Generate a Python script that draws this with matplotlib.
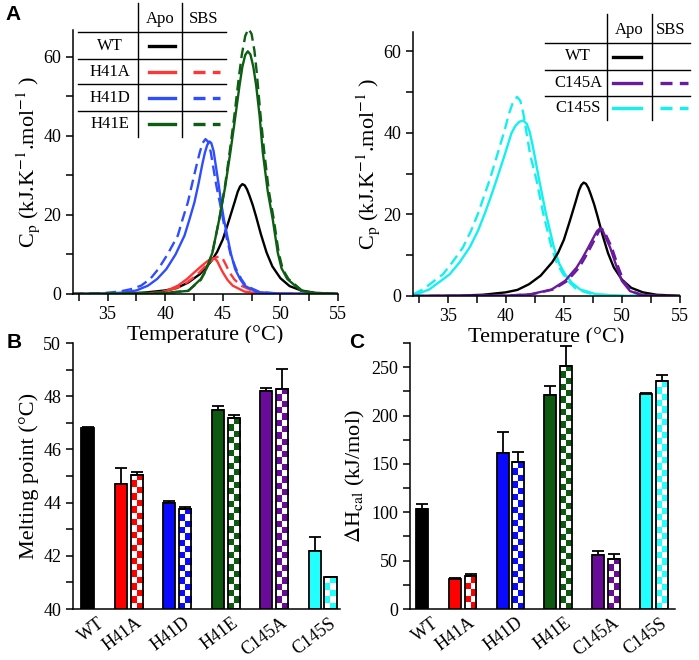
import matplotlib
matplotlib.use('Agg')
import matplotlib.pyplot as plt
import numpy as np
from matplotlib.colors import ListedColormap
from matplotlib.lines import Line2D
from matplotlib.ticker import MultipleLocator

plt.rcParams['font.family'] = 'Liberation Serif'
plt.rcParams['mathtext.fontset'] = 'stix'
plt.rcParams['axes.linewidth'] = 1.1

W, H = 699, 660

# ---- panel A, DSC traces (temperature in C, Cp in kJ/K/mol) ----
wt_t = [32, 36, 38, 40, 41, 42, 43, 44, 44.5, 45, 45.5, 46, 46.3, 46.5, 46.7, 46.9, 47.1, 47.3, 47.6, 47.9, 48.3, 48.8, 49.3, 50, 50.8, 51.8, 53, 55]
wt_cp = [0, 0.1, 0.3, 0.9, 1.5, 2.9, 5.0, 8.3, 10.6, 13.8, 18.3, 23.0, 25.9, 27.2, 27.8, 27.5, 26.5, 25.0, 22.5, 19.5, 15.2, 10.5, 7.0, 4.0, 2.0, 0.9, 0.3, 0.05]

h41a_apo_t = [32, 38, 39.5, 40.1, 41.1, 41.9, 42.54, 43.2, 43.8, 44.05, 44.28, 44.5, 44.75, 45.0, 45.4, 45.87, 46.9, 48, 50, 55]
h41a_apo_cp = [0, 0.1, 0.4, 0.8, 2.1, 3.8, 5.5, 7.2, 8.6, 8.95, 9.0, 8.4, 6.9, 5.5, 3.6, 2.1, 0.6, 0.2, 0.05, 0]
h41a_sbs_t = [32, 38.5, 40, 41.5, 42.3, 42.98, 43.6, 44.2, 44.5, 44.77, 45.0, 45.25, 45.58, 46.0, 46.6, 47.75, 49, 51, 55]
h41a_sbs_cp = [0, 0.1, 0.5, 2.1, 3.8, 5.5, 7.4, 8.9, 9.35, 9.5, 8.9, 7.5, 5.5, 3.7, 2.1, 0.6, 0.2, 0.05, 0]

h41d_apo_t = [32, 35, 36.5, 37.5, 38.5, 39.3, 40.1, 40.9, 41.68, 42.1, 42.54, 42.9, 43.2, 43.45, 43.65, 43.84, 44.0, 44.2, 44.42, 44.65, 44.86, 45.1, 45.38, 45.7, 46.07, 46.5, 46.9, 48.0, 50, 55]
h41d_apo_cp = [0, 0.1, 0.4, 0.9, 2.1, 3.8, 6.3, 10.0, 14.8, 18.8, 23.2, 28.0, 32.5, 35.8, 37.7, 38.6, 38.2, 36.2, 32.0, 27.5, 23.2, 18.8, 14.8, 10.3, 6.3, 3.8, 2.1, 0.4, 0.1, 0]
h41d_sbs_t = [32, 34.5, 36, 37, 37.9, 38.7, 39.4, 40.2, 41.1, 41.5, 41.97, 42.35, 42.7, 43.0, 43.25, 43.5, 43.7, 43.95, 44.2, 44.45, 44.74, 45.29, 45.7, 46.16, 46.6, 47.0, 48.2, 50, 55]
h41d_sbs_cp = [0, 0.2, 0.6, 1.2, 2.1, 3.8, 6.3, 10.0, 14.8, 18.8, 23.2, 28.0, 32.3, 35.8, 38.2, 39.2, 38.6, 36.0, 31.6, 27.3, 23.2, 14.8, 9.8, 6.3, 3.8, 2.1, 0.5, 0.1, 0]

h41e_apo_t = [32, 39, 40.5, 42.0, 43.1, 43.6, 44.1, 44.7, 45.2, 45.66, 46.0, 46.45, 46.7, 46.95, 47.17, 47.4, 47.65, 47.9, 48.2, 48.47, 48.9, 49.33, 49.77, 50.1, 50.6, 51.8, 53, 55]
h41e_apo_cp = [0, 0.1, 0.4, 0.8, 3.8, 6.5, 10.5, 19.0, 27.0, 35.9, 43.0, 52.7, 57.5, 60.5, 61.4, 60.6, 57.5, 52.7, 45.0, 35.9, 26.0, 19.0, 10.5, 6.5, 3.8, 0.8, 0.2, 0]
h41e_sbs_t = [32, 40.5, 42.0, 43.1, 43.6, 44.1, 44.7, 45.2, 45.6, 46.0, 46.4, 46.65, 46.95, 47.23, 47.5, 47.75, 47.95, 48.25, 48.6, 49.0, 49.42, 49.85, 50.2, 50.7, 51.9, 53, 55]
h41e_sbs_cp = [0, 0.4, 0.8, 3.6, 6.3, 10.5, 19.0, 27.5, 36.0, 45.0, 55.0, 60.5, 65.3, 67.1, 65.8, 61.5, 56.0, 46.0, 35.9, 26.0, 19.0, 10.5, 6.3, 3.8, 0.8, 0.2, 0]

c145a_apo_t = [32, 40, 42.07, 43.94, 45.1, 46.1, 46.6, 47.1, 47.6, 47.85, 48.12, 48.35, 48.6, 48.98, 49.56, 49.99, 50.7, 51.6, 53, 55]
c145a_apo_cp = [0, 0.1, 0.4, 1.6, 3.7, 7.0, 9.3, 11.9, 14.6, 15.9, 16.6, 16.0, 14.3, 11.9, 7.0, 3.7, 1.2, 0.3, 0.05, 0]
c145a_sbs_t = [32, 40, 42.2, 44.1, 45.3, 46.33, 46.8, 47.3, 47.8, 48.05, 48.26, 48.5, 48.75, 49.13, 49.7, 50.14, 50.8, 51.7, 53, 55]
c145a_sbs_cp = [0, 0.1, 0.4, 1.6, 3.7, 7.0, 9.3, 11.9, 14.6, 16.0, 16.5, 15.8, 14.2, 11.9, 7.0, 3.7, 1.2, 0.3, 0.05, 0]

c145s_apo_t = [32, 32.3, 33.4, 35.15, 36.0, 36.88, 37.6, 38.18, 38.7, 39.19, 39.9, 40.48, 40.8, 41.15, 41.5, 41.8, 42.05, 42.3, 42.6, 42.87, 43.45, 44.14, 44.6, 45.1, 45.7, 46.4, 47.8, 50, 55]
c145s_apo_cp = [0.2, 0.4, 1.6, 5.3, 8.2, 11.9, 16.0, 20.2, 24.3, 28.4, 34.6, 39.9, 41.6, 42.7, 43.0, 42.2, 40.2, 37.0, 32.5, 28.4, 20.2, 11.9, 7.9, 5.3, 3.2, 1.6, 0.4, 0.05, 0]
c145s_sbs_t = [32, 32.85, 34.57, 35.4, 36.3, 37.0, 37.6, 38.1, 38.6, 39.3, 39.9, 40.25, 40.6, 40.97, 41.25, 41.5, 41.75, 42.1, 42.64, 43.22, 43.94, 44.4, 44.95, 45.5, 46.1, 47.5, 50, 55]
c145s_sbs_cp = [0.4, 1.6, 5.3, 8.3, 11.9, 16.0, 20.2, 24.3, 28.4, 35.0, 40.7, 44.5, 47.4, 48.8, 47.8, 44.8, 40.5, 34.5, 28.4, 20.2, 11.9, 8.0, 5.3, 3.3, 1.6, 0.4, 0.05, 0]

# ---- panels B and C ----
variants = ['WT', 'H41A', 'H41D', 'H41E', 'C145A', 'C145S']
mutants = variants[1:]

tm_apo = [46.79, 44.71, 43.98, 47.47, 48.18, 42.18]
tm_apo_err = [0.07, 0.60, 0.07, 0.15, 0.13, 0.53]
tm_sbs = [45.04, 43.77, 47.18, 48.28, 41.19]
tm_sbs_err = [0.10, 0.05, 0.13, 0.75, 0.03]

dh_apo = [103.6, 31.0, 161.2, 221.4, 55.4, 222.5]
dh_apo_err = [5.2, 1.4, 22.0, 9.3, 4.5, 1.0]
dh_sbs = [33.7, 151.5, 251.4, 51.7, 235.2]
dh_sbs_err = [2.8, 11.0, 21.0, 5.1, 6.9]

bar_colors = ['black', '#ff0000', '#0a0aff', '#0b5a10', '#690a99', '#22ffff']
line_colors = {'WT': 'black', 'H41A': '#ff3636', 'H41D': '#2e4dff',
               'H41E': '#0d5e12', 'C145A': '#6a1a9c', 'C145S': '#14f0f0'}

DASH = (0, (4.5, 2.4))
LW = 1.7


def px_axes(left, top, right, bottom):
    return fig.add_axes([left / W, 1 - bottom / H, (right - left) / W, (bottom - top) / H])


def fx(x):
    return x / W


def fy(y):
    return 1 - y / H


def style_axes(ax):
    ax.spines['top'].set_visible(False)
    ax.spines['right'].set_visible(False)
    ax.tick_params(which='both', direction='out', width=1.1, labelsize=13)
    ax.tick_params(which='major', length=5)
    ax.tick_params(which='minor', length=5)


def dsc_axes(ax, ymax):
    style_axes(ax)
    ax.set_xlim(32, 55)
    ax.set_ylim(0, ymax)
    ax.xaxis.set_major_locator(MultipleLocator(5))
    ax.xaxis.set_minor_locator(MultipleLocator(2.5))
    ax.yaxis.set_major_locator(MultipleLocator(20))
    ax.yaxis.set_minor_locator(MultipleLocator(10))
    ax.set_xlabel('Temperature (°C)', fontsize=16, labelpad=2)
    ax.set_ylabel(r'C$_\mathrm{p}$ (kJ.K$^{\mathrm{-1}}$.mol$^{\mathrm{-1}}$ )', fontsize=16, labelpad=1)


def legend_table(rows, x_lines, x_right, y_top, y_rows, x_label, x_apo, x_sbs, y_head):
    # vertical separators
    for xv in x_lines:
        fig.add_artist(Line2D([fx(xv), fx(xv)], [fy(y_top), fy(y_rows[-1])],
                              color='black', lw=1.0))
    # horizontal separators
    for yh in y_rows[:-1]:
        fig.add_artist(Line2D([fx(x_label[0]), fx(x_right)], [fy(yh), fy(yh)],
                              color='black', lw=1.0))
    fig.text(fx((x_lines[0] + x_lines[1]) / 2), fy(y_head), 'Apo', ha='center', va='center', fontsize=12)
    fig.text(fx((x_lines[1] + x_right) / 2), fy(y_head), 'SBS', ha='center', va='center', fontsize=12)
    for i, (name, has_sbs) in enumerate(rows):
        yc = (y_rows[i] + y_rows[i + 1]) / 2
        fig.text(fx(x_label[1]), fy(yc), name, ha='center', va='center', fontsize=12)
        c = line_colors[name]
        fig.add_artist(Line2D([fx(x_apo[0]), fx(x_apo[1])], [fy(yc), fy(yc)], color=c, lw=2.4))
        if has_sbs:
            fig.add_artist(Line2D([fx(x_sbs[0]), fx(x_sbs[1])], [fy(yc), fy(yc)], color=c, lw=2.4,
                                  linestyle=(0, (3.6, 2.2))))


def checker_bar(ax, x, top, base, width, color, px_per_unit):
    nrows = max(1, int(round((top - base) * px_per_unit / 6.3)))
    pattern = np.add.outer(np.arange(nrows), np.arange(2)) % 2
    ax.imshow(pattern, cmap=ListedColormap(['white', color]), vmin=0, vmax=1,
              extent=(x - width / 2, x + width / 2, base, top), aspect='auto',
              interpolation='nearest', origin='upper', zorder=2.2)


def bar_panel(ax, apo, apo_err, sbs, sbs_err, base, ylim, xlim, ax_height_px):
    style_axes(ax)
    width = 0.25
    off = 0.165
    pos = np.array([0.0] + [0.85 + k for k in range(len(mutants))])
    apo_x = np.concatenate([[pos[0]], pos[1:] - off])
    sbs_x = pos[1:] + off
    apo = np.array(apo)
    sbs = np.array(sbs)
    ax.bar(apo_x, apo - base, bottom=base, width=width, color=bar_colors,
           edgecolor='black', linewidth=1.3, zorder=3)
    ax.bar(sbs_x, sbs - base, bottom=base, width=width, color='white',
           edgecolor='none', zorder=2)
    px_per_unit = ax_height_px / (ylim[1] - ylim[0])
    for xs, v, c in zip(sbs_x, sbs, bar_colors[1:]):
        checker_bar(ax, xs, v, base, width, c, px_per_unit)
    ax.bar(sbs_x, sbs - base, bottom=base, width=width, fill=False,
           edgecolor='black', linewidth=1.3, zorder=3)
    ax.errorbar(apo_x, apo, yerr=[np.zeros(len(apo)), apo_err], fmt='none', ecolor='black',
                elinewidth=1.3, capsize=4, capthick=1.3, zorder=2.5)
    ax.errorbar(sbs_x, sbs, yerr=[np.zeros(len(sbs)), sbs_err], fmt='none', ecolor='black',
                elinewidth=1.3, capsize=4, capthick=1.3, zorder=2.5)
    ax.set_xlim(*xlim)
    ax.set_ylim(*ylim)
    ax.set_xticks(pos + np.array([0.2] + [0.12] * len(mutants)))
    ax.set_xticklabels(variants, rotation=37, ha='right', va='top',
                       rotation_mode='anchor', fontsize=13)
    ax.tick_params(axis='x', length=0, pad=4)


fig = plt.figure(figsize=(W / 100, H / 100), dpi=100)

# ---- A left ----
axA1 = px_axes(73, 30, 338, 294)
curves_left = [
    (wt_t, wt_cp, 'WT', '-'),
    (h41a_apo_t, h41a_apo_cp, 'H41A', '-'),
    (h41a_sbs_t, h41a_sbs_cp, 'H41A', DASH),
    (h41d_apo_t, h41d_apo_cp, 'H41D', '-'),
    (h41d_sbs_t, h41d_sbs_cp, 'H41D', DASH),
    (h41e_apo_t, h41e_apo_cp, 'H41E', '-'),
    (h41e_sbs_t, h41e_sbs_cp, 'H41E', DASH),
]
for t, cp, name, ls in curves_left:
    axA1.plot(t, cp, color=line_colors[name], lw=LW, linestyle=ls, solid_joinstyle='round')
dsc_axes(axA1, 66.8)

# ---- A right ----
axA2 = px_axes(413, 32, 680, 296)
curves_right = [
    (c145s_apo_t, c145s_apo_cp, 'C145S', '-'),
    (c145s_sbs_t, c145s_sbs_cp, 'C145S', DASH),
    (wt_t, wt_cp, 'WT', '-'),
    (c145a_apo_t, c145a_apo_cp, 'C145A', '-'),
    (c145a_sbs_t, c145a_sbs_cp, 'C145A', DASH),
]
for t, cp, name, ls in curves_right:
    axA2.plot(t, cp, color=line_colors[name], lw=LW, linestyle=ls, solid_joinstyle='round')
dsc_axes(axA2, 64.7)

# legend tables
legend_table([('WT', False), ('H41A', True), ('H41D', True), ('H41E', True)],
             x_lines=[138, 182], x_right=226, y_top=3,
             y_rows=[32, 59, 84, 111, 137], x_label=(78, 110),
             x_apo=(149, 175), x_sbs=(193, 220), y_head=19)
legend_table([('WT', False), ('C145A', True), ('C145S', True)],
             x_lines=[607, 652], x_right=690, y_top=14,
             y_rows=[43, 70, 96, 120], x_label=(545, 578),
             x_apo=(613, 641), x_sbs=(660, 688), y_head=30)

# ---- B ----
axB = px_axes(73, 343, 340, 609)
bar_panel(axB, tm_apo, tm_apo_err, tm_sbs, tm_sbs_err, base=40, ylim=(40, 50),
          xlim=(-0.30, 5.21), ax_height_px=266)
axB.yaxis.set_major_locator(MultipleLocator(2))
axB.yaxis.set_minor_locator(MultipleLocator(1))
axB.set_ylabel('Melting point (°C)', fontsize=16, labelpad=3)

# ---- C ----
axC = px_axes(410, 343, 675, 609)
bar_panel(axC, dh_apo, dh_apo_err, dh_sbs, dh_sbs_err, base=0, ylim=(0, 275),
          xlim=(-0.25, 5.29), ax_height_px=266)
axC.yaxis.set_major_locator(MultipleLocator(50))
axC.yaxis.set_minor_locator(MultipleLocator(25))
axC.set_ylabel(r'$\Delta$H$_\mathrm{cal}$ (kJ/mol)', fontsize=16, labelpad=3)

# panel letters
for letter, x, y in [('A', 13, 15), ('B', 14, 343), ('C', 357, 343)]:
    fig.text(fx(x), fy(y), letter, fontsize=15, fontweight='bold', family='Liberation Sans',
             ha='center', va='center')

fig.savefig('out.png', dpi=100)
